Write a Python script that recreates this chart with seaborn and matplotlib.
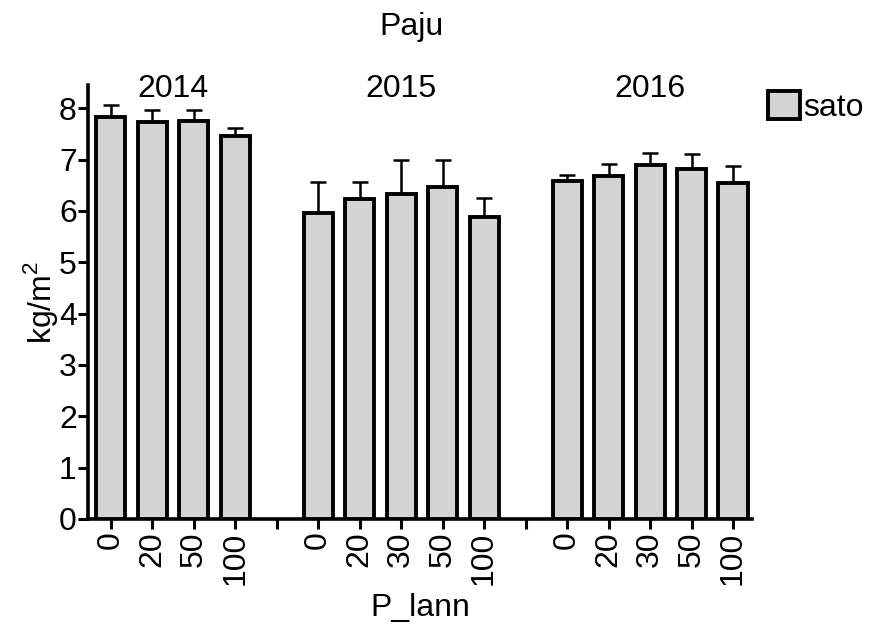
import pandas as pd
import numpy as np
import seaborn as sns
import matplotlib.pyplot as plt
from matplotlib.patches import Patch

# values
years = ['2014', '2015', '2016']
doses_2014 = ['0', '20', '50', '100']
doses_2015 = ['0', '20', '30', '50', '100']
doses_2016 = ['0', '20', '30', '50', '100']
sato_2014 = [7.83, 7.73, 7.76, 7.46]
sato_2015 = [5.95, 6.24, 6.33, 6.47, 5.88]
sato_2016 = [6.58, 6.68, 6.90, 6.81, 6.55]
err_2014 = [0.23, 0.23, 0.20, 0.16]
err_2015 = [0.62, 0.33, 0.67, 0.53, 0.38]
err_2016 = [0.11, 0.23, 0.23, 0.29, 0.32]

sns.set_style("ticks")
plt.rcParams['font.family'] = ['Liberation Sans', 'DejaVu Sans']
plt.rcParams['mathtext.fontset'] = 'custom'
plt.rcParams['mathtext.rm'] = 'Liberation Sans'
for k in ['text.color', 'axes.labelcolor', 'xtick.color', 'ytick.color', 'axes.edgecolor']:
    plt.rcParams[k] = 'black'

FS = 23

groups = [(years[0], doses_2014, sato_2014, err_2014),
          (years[1], doses_2015, sato_2015, err_2015),
          (years[2], doses_2016, sato_2016, err_2016)]

# one slot per bar, plus an empty slot between the years
rows, order, ticklabels, centers = [], [], [], []
for i, (yr, doses, vals, errs) in enumerate(groups):
    start = len(order)
    for d, v, e in zip(doses, vals, errs):
        key = f'{yr}-{d}'
        rows.append({'slot': key, 'sato': v, 'err': e})
        order.append(key)
        ticklabels.append(d)
    centers.append((start + len(order) - 1) / 2)
    if i < len(groups) - 1:
        order.append(f'gap{i}')
        ticklabels.append('')
df = pd.DataFrame(rows)

fig = plt.figure(figsize=(8.71, 6.26), dpi=100)
ax = fig.add_axes([0.101, 0.171, 0.762, 0.693])

sns.barplot(data=df, x='slot', y='sato', order=order, color='#d3d3d3',
            edgecolor='black', linewidth=2.8, width=0.7, saturation=1,
            errorbar=None, ax=ax, zorder=3)

pos = [order.index(s) for s in df['slot']]
ax.errorbar(pos, df['sato'], yerr=[np.zeros(len(df)), df['err']], fmt='none',
            ecolor='black', elinewidth=1.8, capsize=5.5, capthick=1.8, zorder=2)

for c, yr in zip(centers, years):
    ax.text(c, 8.38, yr, ha='center', va='center', fontsize=FS)

ax.set_xlim(-0.55, len(order) - 0.55)
ax.set_ylim(0, 8.45)
ax.set_yticks(range(0, 9))
ax.set_xticks(range(len(order)))
ax.set_xticklabels(ticklabels, rotation=90, fontsize=FS)
ax.tick_params(axis='y', labelsize=FS, pad=1)
ax.tick_params(axis='x', pad=2)
ax.tick_params(width=2.2, length=7, direction='out')
for s in ['left', 'bottom']:
    ax.spines[s].set_linewidth(2.6)
sns.despine(ax=ax)

ax.set_xlabel('P_lann', fontsize=FS, labelpad=6)
ax.set_ylabel('kg/m$^{2}$', fontsize=FS, labelpad=-1)
fig.text(0.473, 0.957, 'Paju', ha='center', va='center', fontsize=FS)

handle = Patch(facecolor='#d3d3d3', edgecolor='black', linewidth=2.8)
ax.legend([handle], ['sato'], loc='upper left', bbox_to_anchor=(0.986, 1.045),
          frameon=False, fontsize=FS, handlelength=1.0, handleheight=0.95,
          handletextpad=0.1, borderaxespad=0.4)

fig.savefig('out.png', dpi=100)
